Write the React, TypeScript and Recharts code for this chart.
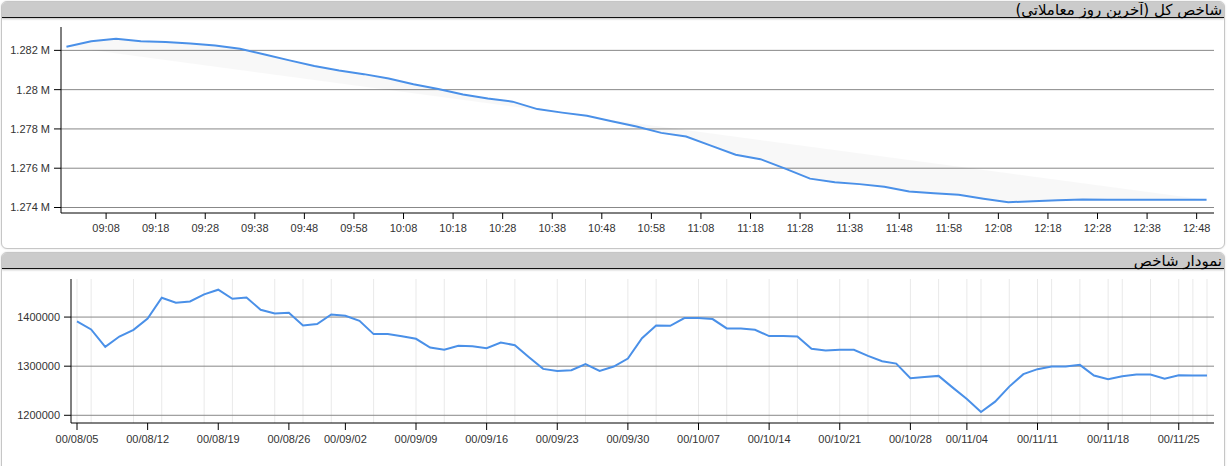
import React from 'react';
import { LineChart, Line, XAxis, YAxis, ReferenceLine } from 'recharts';

// top panel: last trading day, every 5 minutes
const topTimes = [
  '09:00', '09:05', '09:10', '09:15', '09:20', '09:25', '09:30', '09:35', '09:40', '09:45', '09:50', '09:55',
  '10:00', '10:05', '10:10', '10:15', '10:20', '10:25', '10:30', '10:35', '10:40', '10:45', '10:50', '10:55',
  '11:00', '11:05', '11:10', '11:15', '11:20', '11:25', '11:30', '11:35', '11:40', '11:45', '11:50', '11:55',
  '12:00', '12:05', '12:10', '12:15', '12:20', '12:25', '12:30', '12:35', '12:40', '12:45', '12:50'
];
const topValues = [
  1282180, 1282460, 1282590, 1282460, 1282420, 1282350, 1282250, 1282080, 1281790, 1281490, 1281200, 1280970,
  1280790, 1280570, 1280280, 1280030, 1279750, 1279550, 1279390, 1279010, 1278830, 1278670, 1278390, 1278120,
  1277800, 1277610, 1277150, 1276690, 1276460, 1275980, 1275470, 1275290, 1275190, 1275060, 1274810, 1274730,
  1274650, 1274450, 1274270, 1274320, 1274370, 1274410, 1274390, 1274390, 1274390, 1274390, 1274390
];
const topTickLabels = [
  '09:08', '09:18', '09:28', '09:38', '09:48', '09:58', '10:08', '10:18', '10:28', '10:38', '10:48', '10:58',
  '11:08', '11:18', '11:28', '11:38', '11:48', '11:58', '12:08', '12:18', '12:28', '12:38', '12:48'
];
const topYTicks = [1274000, 1276000, 1278000, 1280000, 1282000];

// bottom panel: daily index
const bottomDates = [
  '00/08/05', '00/08/08', '00/08/09', '00/08/10', '00/08/11', '00/08/12',
  '00/08/15', '00/08/16', '00/08/17', '00/08/18', '00/08/19',
  '00/08/22', '00/08/23', '00/08/24', '00/08/25', '00/08/26',
  '00/08/29', '00/08/30', '00/09/01', '00/09/02',
  '00/09/03', '00/09/06', '00/09/07', '00/09/08', '00/09/09',
  '00/09/10', '00/09/13', '00/09/14', '00/09/15', '00/09/16',
  '00/09/17', '00/09/20', '00/09/21', '00/09/22', '00/09/23',
  '00/09/24', '00/09/27', '00/09/28', '00/09/29', '00/09/30',
  '00/10/01', '00/10/04', '00/10/05', '00/10/06', '00/10/07',
  '00/10/08', '00/10/11', '00/10/12', '00/10/13', '00/10/14',
  '00/10/15', '00/10/18', '00/10/19', '00/10/20', '00/10/21',
  '00/10/22', '00/10/25', '00/10/26', '00/10/27', '00/10/28',
  '00/10/29', '00/11/02', '00/11/03', '00/11/04',
  '00/11/05', '00/11/06', '00/11/09', '00/11/10', '00/11/11',
  '00/11/12', '00/11/13', '00/11/16', '00/11/17', '00/11/18',
  '00/11/19', '00/11/20', '00/11/23', '00/11/24', '00/11/25',
  '00/11/26', '00/11/27'
];
const bottomValues = [
  1391000, 1374700, 1339400, 1360400, 1374100, 1397100,
  1439400, 1429200, 1431800, 1446100, 1455700,
  1437300, 1440000, 1414900, 1407300, 1408800,
  1382900, 1385700, 1405300, 1402700,
  1392400, 1365300, 1365300, 1361000, 1355700,
  1338000, 1333300, 1341400, 1340800, 1336700,
  1348200, 1342800, 1318400, 1294500, 1290400,
  1291800, 1304100, 1290400, 1299200, 1315500,
  1357100, 1382900, 1382200, 1398000, 1398000,
  1395900, 1376800, 1376800, 1374100, 1361200,
  1361200, 1360400, 1335300, 1331900, 1333300,
  1333300, 1321000, 1310200, 1305300, 1275500,
  1278200, 1280200, 1256300, 1233300,
  1206700, 1227800, 1258400, 1283700, 1293900,
  1299200, 1299200, 1302700, 1280900, 1273500,
  1279600, 1282900, 1282900, 1274700, 1281600,
  1280900, 1280900
];
const bottomTickDates = [
  '00/08/05', '00/08/12', '00/08/19', '00/08/26', '00/09/02', '00/09/09', '00/09/16', '00/09/23', '00/09/30',
  '00/10/07', '00/10/14', '00/10/21', '00/10/28', '00/11/04', '00/11/11', '00/11/18', '00/11/25'
];
const bottomGridDates = [
  '00/08/05', '00/08/08', '00/08/11', '00/08/15', '00/08/18', '00/08/22', '00/08/25', '00/08/29', '00/09/01',
  '00/09/06', '00/09/09', '00/09/13', '00/09/16', '00/09/20', '00/09/23', '00/09/27', '00/09/30', '00/10/04',
  '00/10/07', '00/10/11', '00/10/14', '00/10/18', '00/10/21', '00/10/25', '00/10/28', '00/11/02', '00/11/04',
  '00/11/05', '00/11/09', '00/11/11', '00/11/12', '00/11/16', '00/11/18', '00/11/19', '00/11/23', '00/11/25',
  '00/11/26', '00/11/27'
];
const bottomYTicks = [1200000, 1300000, 1400000];

const toMin = (s: string) => {
  const [h, m] = s.split(':').map(Number);
  return (h - 9) * 60 + m;
};
const fromMin = (v: number) => {
  const h = 9 + Math.floor(v / 60);
  const m = v % 60;
  return `${String(h).padStart(2, '0')}:${String(m).padStart(2, '0')}`;
};

const topData = topTimes.map((t, i) => ({ t: toMin(t), value: topValues[i] }));
const bottomData = bottomDates.map((d, i) => ({ date: d, value: bottomValues[i] }));

const LINE_COLOR = '#4a90e8';
const GRID_COLOR = '#888';
const tickFont = { fontFamily: 'Liberation Sans, Arial, sans-serif', fontSize: 11, fill: '#333' };

const panelStyle: React.CSSProperties = {
  position: 'absolute',
  left: 1,
  width: 1222,
  background: '#fff',
  border: '1px solid #c6c6c6',
  borderRadius: 6,
  boxShadow: '0 0 2px rgba(0,0,0,0.15)',
  overflow: 'hidden'
};

const headerStyle: React.CSSProperties = {
  height: 15,
  background: '#cbcbcb',
  borderBottom: '1.5px solid #111',
  boxShadow: '0 1px 2px rgba(0,0,0,0.25)',
  direction: 'rtl',
  textAlign: 'right',
  paddingRight: 2,
  fontFamily: 'DejaVu Sans, sans-serif',
  fontSize: 15,
  lineHeight: '16px',
  color: '#000',
  whiteSpace: 'nowrap'
};

const App: React.FC = () => {
  return (
    <div style={{ position: 'absolute', left: 0, top: 0, width: 1230, height: 466, overflow: 'hidden', background: '#fff' }}>
      <style>{`.top-index .recharts-line-curve { fill: rgba(0,0,0,0.028); }`}</style>

      {/* top panel */}
      <div style={{ ...panelStyle, top: 1, height: 246 }}>
        <div style={headerStyle}>شاخص کل (آخرین روز معاملاتی)</div>
      </div>

      {/* bottom panel */}
      <div style={{ ...panelStyle, top: 252, height: 240 }}>
        <div style={headerStyle}>نمودار شاخص</div>
      </div>

      <div className="top-index" style={{ position: 'absolute', left: 0, top: 20, width: 1230, height: 228 }}>
        <LineChart width={1230} height={228} data={topData} margin={{ top: 7, right: 16, bottom: 5, left: 0 }}>
          {topYTicks.map((v) => (
            <ReferenceLine key={v} y={v} stroke={GRID_COLOR} strokeWidth={1} />
          ))}
          <XAxis
            type="number"
            dataKey="t"
            domain={[-1.1, 231.5]}
            ticks={topTickLabels.map(toMin)}
            tickFormatter={fromMin}
            height={30}
            tick={tickFont}
            tickSize={6}
            tickMargin={5}
            axisLine={{ stroke: '#000' }}
            tickLine={{ stroke: '#000' }}
            allowDataOverflow
          />
          <YAxis
            domain={[1273720, 1283190]}
            ticks={topYTicks}
            tickFormatter={(v: number) => `${v / 1000000} M`}
            width={61}
            tick={tickFont}
            tickSize={7}
            tickMargin={4}
            axisLine={{ stroke: '#000' }}
            tickLine={{ stroke: '#000' }}
            allowDataOverflow
          />
          <Line
            type="linear"
            dataKey="value"
            stroke={LINE_COLOR}
            strokeWidth={2}
            dot={false}
            activeDot={false}
            isAnimationActive={false}
          />
        </LineChart>
      </div>

      <div style={{ position: 'absolute', left: 0, top: 252, width: 1230, height: 214 }}>
        <LineChart width={1230} height={214} data={bottomData} margin={{ top: 27, right: 16, bottom: 13, left: 0 }}>
          {bottomGridDates.map((d) => (
            <ReferenceLine key={d} x={d} stroke="#e9e9e9" strokeWidth={1} />
          ))}
          {bottomYTicks.map((v) => (
            <ReferenceLine key={v} y={v} stroke={GRID_COLOR} strokeWidth={1} />
          ))}
          <XAxis
            dataKey="date"
            ticks={bottomTickDates}
            interval={0}
            padding={{ left: 6, right: 7 }}
            height={30}
            tick={tickFont}
            tickSize={7}
            tickMargin={5}
            axisLine={{ stroke: '#000' }}
            tickLine={{ stroke: '#000' }}
          />
          <YAxis
            domain={[1184300, 1477500]}
            ticks={bottomYTicks}
            width={71}
            tick={tickFont}
            tickSize={7}
            tickMargin={4}
            axisLine={{ stroke: '#000' }}
            tickLine={{ stroke: '#000' }}
            allowDataOverflow
          />
          <Line
            type="linear"
            dataKey="value"
            stroke={LINE_COLOR}
            strokeWidth={2}
            dot={false}
            activeDot={false}
            isAnimationActive={false}
          />
        </LineChart>
      </div>
    </div>
  );
};

export default App;
